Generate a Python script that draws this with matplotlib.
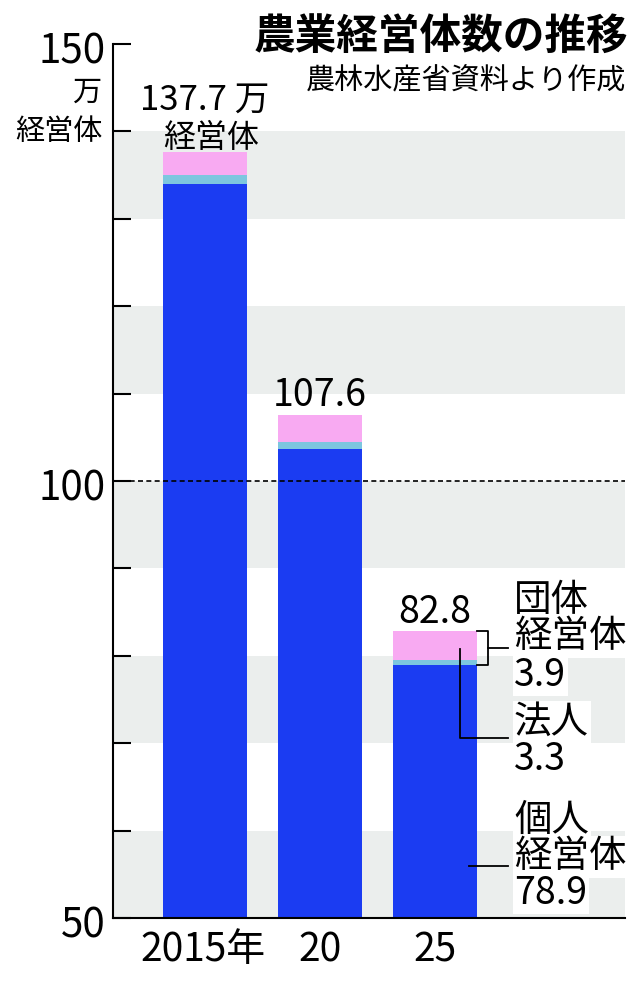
import matplotlib
matplotlib.use('Agg')
import matplotlib.pyplot as plt
import numpy as np

plt.rcParams['font.family'] = ['Noto Sans CJK JP', 'DejaVu Sans']

# data (万経営体)
years       = ['2015年', '20', '25']
individual  = [134.0, 103.7, 78.9]   # 個人経営体
group_other = [1.0, 0.8, 0.6]        # 団体経営体のうち法人以外
corporate   = [2.7, 3.1, 3.3]        # 法人
totals      = [137.7, 107.6, 82.8]

BLUE  = '#1b3cf2'
CYAN  = '#7dc6df'
PINK  = '#f8aaf2'
BAND  = '#ebeeed'

W, H = 640, 986
fig = plt.figure(figsize=(W / 100, H / 100), dpi=100)
ax = fig.add_axes([113 / W, (H - 918) / H, 512 / W, 874 / H])

def fx(px):
    return px / W

def fy(py):
    return (H - py) / H

x = np.arange(len(years))
width = 0.73

# gray bands
for lo in range(50, 150, 20):
    ax.axhspan(lo, lo + 10, color=BAND, lw=0, zorder=0)

ax.bar(x, individual, width, bottom=0, color=BLUE, zorder=2)
bottom2 = np.array(individual)
ax.bar(x, group_other, width, bottom=bottom2, color=CYAN, zorder=2)
bottom3 = bottom2 + np.array(group_other)
ax.bar(x, corporate, width, bottom=bottom3, color=PINK, zorder=2)

ax.axhline(100, color='black', lw=1.2, ls=(0, (3, 2)), zorder=3)

ax.set_xlim(-0.8, 3.652)
ax.set_ylim(50, 150)

for s in ['top', 'right']:
    ax.spines[s].set_visible(False)
ax.spines['left'].set_linewidth(1.5)
ax.spines['bottom'].set_linewidth(1.5)

ax.set_yticks(np.arange(50, 151, 10))
ax.set_yticklabels([])
ax.tick_params(axis='y', direction='in', length=13, width=1.5)
ax.set_xticks([])

# y labels
for v in [150, 100, 50]:
    ax.text(-0.8 - 0.06, v - 0.9, str(v), ha='right', va='center',
            fontsize=29, color='black')

fig.text(fx(101), fy(93), '万', ha='right', va='center', fontsize=21)
fig.text(fx(103), fy(132), '経営体', ha='right', va='center', fontsize=21)

# x labels
for i, lab in enumerate(years):
    ax.text(x[i] - (0.02 if i == 0 else 0), 46.3, lab, ha='center',
            va='center', fontsize=28)

# total labels
ax.text(x[0], totals[0] + 5.9, '%.1f 万' % totals[0], ha='center',
        va='center', fontsize=25)
ax.text(x[0] + 0.05, totals[0] + 1.5, '経営体', ha='center', va='center',
        fontsize=23)
for i in [1, 2]:
    ax.text(x[i], totals[i] + 2.2, '%.1f' % totals[i], ha='center',
            va='center', fontsize=27)

# annotations for latest year
last = len(years) - 1
edge = x[last] + width / 2
bx = edge + 0.095
tx = edge + 0.27
grp = group_other[last] + corporate[last]
top = totals[last]
ax.plot([edge, bx, bx, edge], [top, top, individual[last], individual[last]],
        color='black', lw=1.3, clip_on=False, zorder=4)
ax.plot([bx, tx], [(top + individual[last]) / 2] * 2, color='black',
        lw=1.3, clip_on=False, zorder=4)

lx = x[last] + 0.217
ax.plot([lx, lx, tx], [bottom3[last] + corporate[last] * 0.4, 70.6, 70.6],
        color='black', lw=1.3, clip_on=False, zorder=4)
ax.plot([x[last] + 0.296, tx], [56, 56], color='black', lw=1.3,
        clip_on=False, zorder=4)

def lines(px, pys, texts, size=27):
    for py, t in zip(pys, texts):
        fig.text(fx(px), fy(py), t, ha='left', va='center', fontsize=size,
                 bbox=dict(facecolor='white', edgecolor='none', pad=1))

lines(514, [600, 637, 675], ['団体', '経営体', '%.1f' % grp])
lines(514, [722, 760], ['法人', '%.1f' % corporate[last]])
lines(514, [820, 857, 893], ['個人', '経営体', '%.1f' % individual[last]])

# title
fig.text(fx(628), fy(38), '農業経営体数の推移', ha='right', va='center',
         fontsize=30, fontweight='bold')
fig.text(fx(626), fy(81), '農林水産省資料より作成', ha='right',
         va='center', fontsize=21)

fig.savefig('out.png', dpi=100)
